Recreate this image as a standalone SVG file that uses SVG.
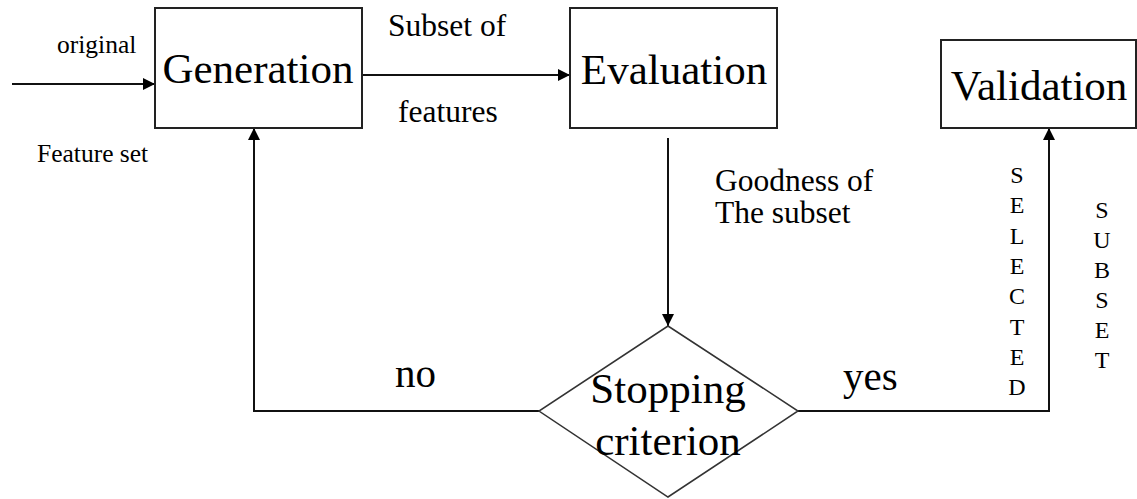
<svg xmlns="http://www.w3.org/2000/svg" width="1137" height="499" viewBox="0 0 1137 499" font-family="'Liberation Serif', 'Times New Roman', 'DejaVu Serif', serif">
<defs>
<style>
.box{fill:#fff;stroke:#222;stroke-width:2}
.ln{fill:none;stroke:#111;stroke-width:2}
text{font-family:'Liberation Serif','Times New Roman','DejaVu Serif',serif;fill:#000}
.big{font-size:43px}
.mid{font-size:31.5px}
.sm{font-size:25.5px}
.lab{font-size:41px}
.vt{font-size:24px;text-anchor:middle}
</style>
<marker id="ah" viewBox="0 0 10 10" refX="10" refY="5" markerWidth="6" markerHeight="6" orient="auto" markerUnits="strokeWidth">
<path d="M0,0 L10,5 L0,10 z" fill="#000"/>
</marker>
</defs>
<rect width="1137" height="499" fill="#fff"/>
<g id="connectors">
<line class="ln" x1="12" y1="84" x2="155" y2="84" marker-end="url(#ah)"/>
<line class="ln" x1="362" y1="75" x2="570" y2="75" marker-end="url(#ah)"/>
<line class="ln" x1="668" y1="138" x2="668" y2="326" marker-end="url(#ah)"/>
<polyline class="ln" points="539,411 254,411 254,128" marker-end="url(#ah)"/>
<polyline class="ln" points="798,411 1049,411 1049,128" marker-end="url(#ah)"/>
<text class="sm" x="57" y="53">original</text>
<text class="sm" x="37" y="162">Feature set</text>
<text class="mid" x="388" y="36">Subset of</text>
<text class="mid" x="398" y="122">features</text>
<text class="mid" x="715" y="191">Goodness of</text>
<text class="mid" x="715" y="223">The subset</text>
<text class="lab" x="395" y="387">no</text>
<text class="lab" x="843" y="390">yes</text>
<g class="vt">
<text x="1017" y="183">S</text><text x="1017" y="213">E</text><text x="1017" y="244">L</text><text x="1017" y="274">E</text><text x="1017" y="304">C</text><text x="1017" y="335">T</text><text x="1017" y="365">E</text><text x="1017" y="395">D</text>
</g>
<g class="vt">
<text x="1102" y="218">S</text><text x="1102" y="248">U</text><text x="1102" y="278">B</text><text x="1102" y="308">S</text><text x="1102" y="338">E</text><text x="1102" y="368">T</text>
</g>
</g>
<g id="generation">
<rect class="box" x="155" y="8" width="207" height="120"/>
<text class="big" x="258" y="83" text-anchor="middle">Generation</text>
</g>
<g id="evaluation">
<rect class="box" x="570" y="8" width="207" height="120"/>
<text class="big" x="674" y="84" text-anchor="middle">Evaluation</text>
</g>
<g id="validation">
<rect class="box" x="941" y="40" width="195" height="88"/>
<text class="big" x="1039" y="100" text-anchor="middle">Validation</text>
</g>
<g id="stopping">
<polygon points="668,326 798,411 668,497 539,411" fill="none" stroke="#333" stroke-width="1.5"/>
<text class="big" x="668" y="403" text-anchor="middle">Stopping</text>
<text class="big" x="668" y="455" text-anchor="middle">criterion</text>
</g>
</svg>
